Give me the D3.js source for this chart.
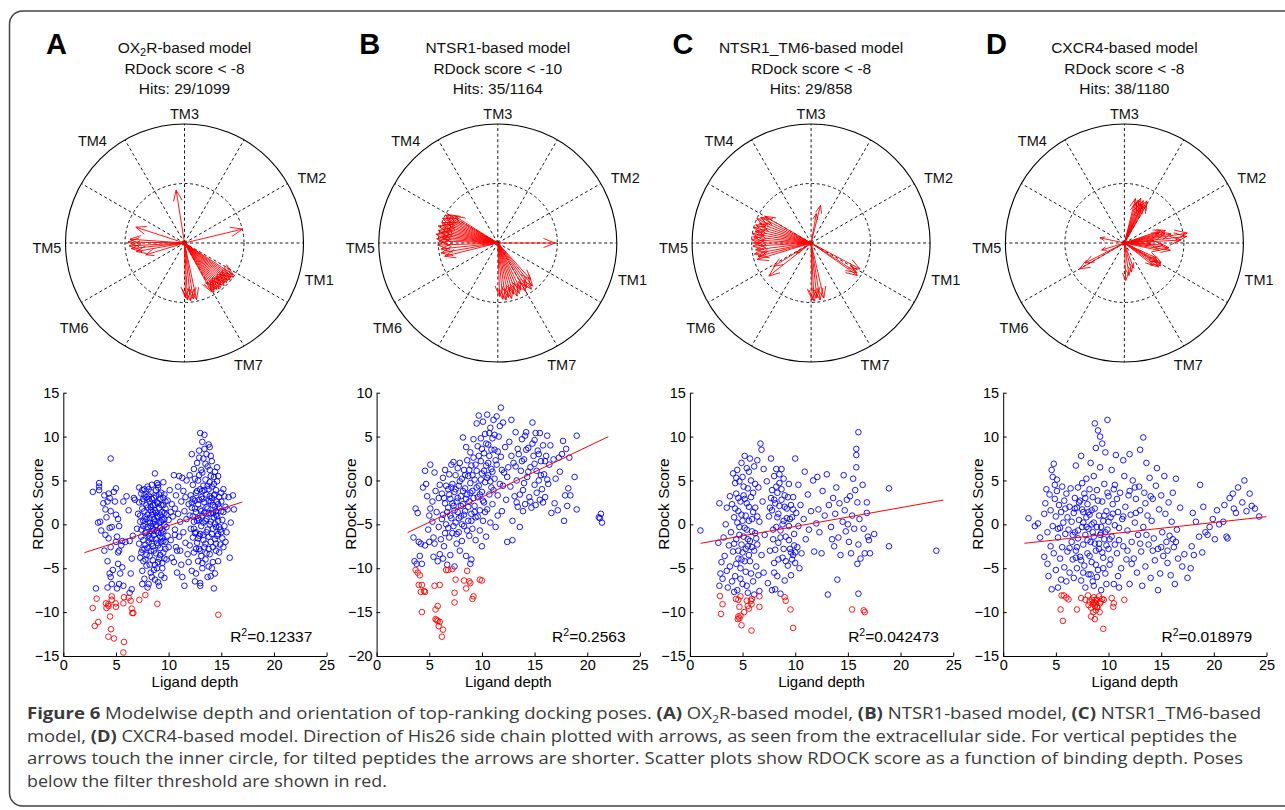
<!DOCTYPE html>
<html>
<head>
<meta charset="utf-8">
<script src="https://cdn.jsdelivr.net/npm/d3@7"></script>
<style>
  body { margin: 0; background: #fff; }
  text { font-family: "Liberation Sans", Arial, sans-serif; }
</style>
</head>
<body>
<div id="chart"></div>
<script>
// ---- data ----
const panelLetters = ["A", "B", "C", "D"];
const modelNames = [["OX", "2", "R-based model"], ["NTSR1-based model"], ["NTSR1_TM6-based model"], ["CXCR4-based model"]];
const thresholds = ["RDock score < -8", "RDock score < -10", "RDock score < -8", "RDock score < -8"];
const hits = ["Hits: 29/1099", "Hits: 35/1164", "Hits: 29/858", "Hits: 38/1180"];
const r2Labels = ["0.12337", "0.2563", "0.042473", "0.018979"];

const tmLabels = ["TM3", "TM2", "TM1", "TM7", "TM6", "TM5", "TM4"];
const tmAngles = [90, 27, -15.2, -62.3, -142.4, -177.9, 132]; // degrees
const tmRadii = [129, 143, 139.6, 137.5, 139.3, 137.7, 137.6];
const spokeAngles = [0, 30, 60, 90, 120, 150, 180, 210, 240, 270, 300, 330];

// arrows: [angle in degrees, length relative to inner circle]
const arrowsA = [[99,0.9],[13.5,1.0],[162,0.86],
  [176,0.92],[179,0.95],[-177,0.93],[-174,0.9],[-170,0.82],[-163,0.68],
  [-33,0.98],[-35,1.0],[-37,0.97],[-39,0.99],[-41,0.96],[-43,0.97],[-45,0.95],[-47,0.98],
  [-49,0.94],[-51,0.96],[-53,0.97],[-55,0.95],[-57,0.93],[-59,0.96],[-61,0.94],
  [-78,0.97],[-81,0.95],[-84,0.98],[-87,0.96],[-89,0.92]];
const arrowsB = [[0,0.96],
  [148,0.85],[150,0.95],[152,1.0],[154,0.97],[156,1.02],[158,0.93],[160,1.0],[162,0.98],[164,1.04],[166,0.96],
  [168,1.02],[170,0.98],[172,1.05],[174,0.95],[176,1.03],[178,0.99],[-178,1.01],[-174,0.96],[-170,0.97],[-166,0.92],
  [-48,0.82],[-51,0.93],[-54,0.96],[-57,0.9],[-60,0.94],[-64,0.88],[-67,0.92],[-70,0.95],[-73,0.9],[-76,0.96],
  [-79,0.93],[-82,0.97],[-85,0.95],[-88,0.9]];
const arrowsC = [[76,0.65],[80,0.5],
  [150,0.9],[153,0.95],[156,1.0],[159,0.93],[162,0.98],[165,1.0],[168,0.96],[171,1.0],[174,0.97],[177,1.0],
  [-180,0.95],[-177,0.98],[-173,0.94],[-169,0.97],[-166,0.92],[-163,0.95],
  [-142,0.9],[-148,0.74],[-145,0.3],
  [-28,0.93],[-33,0.92],[-35,0.95],
  [-77,0.95],[-81,0.97],[-84,0.93],[-87,0.98],[-89,0.96]];
const arrowsD = [[60,0.75],[62,0.8],[64,0.7],[66,0.78],[68,0.72],[70,0.8],[72,0.76],[74,0.7],[76,0.77],[65,0.62],
  [3,0.95],[6,1.05],[9,1.07],[11,0.8],[13,0.7],[15,0.6],[17,0.72],[19,0.65],[5,0.5],[-3,0.65],[-6,0.75],[-9,0.78],[-12,0.6],[-2,0.45],
  [-25,0.6],[-28,0.7],[-30,0.65],[-32,0.72],[-35,0.7],[-38,0.6],
  [-88,0.63],[-82,0.55],[-76,0.5],[-70,0.45],
  [168,0.42],[-163,0.4],[-150,0.87],[-153,0.74]];

// scatter: ligand depth vs RDock score
const yDomains = [[-15, 15], [-20, 10], [-15, 15], [-15, 15]];
const yTicks = [[-15,-10,-5,0,5,10,15], [-20,-15,-10,-5,0,5,10], [-15,-10,-5,0,5,10,15], [-15,-10,-5,0,5,10,15]];
const xTicks = [0, 5, 10, 15, 20, 25];

const blueA = [[2.8,3.7],[3.4,4.7],[3.4,4.3],[3.4,3.9],[3.3,0.2],[3.5,0.3],[3.6,-0.7],[3.8,2.4],[3.9,3.3],[4.0,1.7],
  [4.1,0.8],[4.0,-1.2],[3.9,-3.0],[4.3,3.5],[4.4,3.0],[4.2,2.6],[4.5,1.5],[4.4,-0.4],[4.6,-0.3],[4.3,-1.6],[4.5,-2.6],
  [4.2,-4.2],[4.4,-5.6],[4.2,-7.2],[4.6,-6.8],[4.5,-6.0],[4.7,-5.2],[4.5,7.5],[4.8,3.7],[5.0,4.1],[4.9,2.6],[5.0,1.1],
  [5.2,0.6],[5.3,-0.2],[5.1,-1.4],[5.0,-2.0],[5.2,-3.2],[5.3,-3.0],[5.5,-2.4],[5.2,-4.5],[5.4,-5.6],[5.6,-4.9],[5.1,-7.3],
  [5.3,-6.8],[5.7,-7.0],[5.6,-1.9],[5.9,-2.0],[5.7,2.6],[6.0,3.2],[6.2,1.6],[6.3,-1.9],[6.5,-3.9],[6.4,-5.6],[6.5,-7.4],
  [6.6,-1.3],[6.8,2.8],[6.7,3.0],[6.3,-7.8],[3.1,-7.3],
  [7.0,-0.5],[7.1,1.2],[7.2,2.5],[7.2,-2.2],[7.3,-3.8],[7.3,0.3],[7.4,3.5],[7.4,-1.4],[7.5,1.8],[7.5,-5.3],[7.6,-0.2],
  [7.6,2.9],[7.7,4.0],[7.7,-2.8],[7.7,-6.2],[7.8,0.8],[7.8,-1.0],[7.9,3.1],[7.9,-3.5],[7.9,-4.7],[8.0,1.9],[8.0,-0.3],
  [8.0,4.3],[8.1,-2.0],[8.1,-6.8],[8.2,2.6],[8.2,0.2],[8.2,-1.6],[8.3,3.7],[8.3,-3.0],[8.3,-5.5],[8.4,1.1],[8.4,-0.8],
  [8.4,4.5],[8.5,2.2],[8.5,-2.5],[8.5,-4.1],[8.6,0.6],[8.6,3.0],[8.6,-1.2],[8.7,-6.3],[8.7,5.8],[8.7,1.6],[8.8,-0.1],
  [8.8,-3.3],[8.8,3.9],[8.9,2.5],[8.9,-2.1],[8.9,-5.0],[9.0,0.9],[9.0,-1.0],[9.0,4.2],[9.1,-3.9],[9.1,1.9],[9.1,-7.0],
  [9.2,-0.4],[9.2,2.9],[9.2,-2.7],[9.3,3.6],[9.3,0.3],[9.3,-5.8],[9.4,-1.6],[9.4,1.4],[9.4,-4.4],[9.5,2.2],[9.5,-0.8],
  [9.5,-3.2],[9.6,3.4],[9.6,0.6],[9.6,-6.1],[9.7,-2.0],[9.7,1.8],[9.8,-0.3],[9.8,-4.0],[9.9,2.7],[9.9,-1.3],[10.0,0.5],
  [10.0,-2.6],[7.5,-6.8],[8.0,-7.2],[8.4,-6.0],[9.0,-6.6],[7.2,4.2],[8.1,3.3],[8.7,-4.6],[9.3,-1.0],[7.9,0.6],[8.3,2.0],
  [8.8,1.3],[9.2,-3.5],[7.6,-4.2],[8.5,-0.5],[9.5,4.8],[9.0,4.5],
  [7.3,1.0],[7.4,-0.6],[7.5,2.6],[7.5,-2.9],[7.6,0.4],[7.6,-1.8],[7.7,1.5],[7.7,3.3],[7.8,-2.3],[7.8,0.0],[7.9,2.2],
  [7.9,-0.9],[8.0,1.1],[8.0,-2.7],[8.1,2.9],[8.1,-1.3],[8.2,0.7],[8.2,-3.6],[8.3,-0.2],[8.3,1.6],[8.4,2.9],[8.4,-2.2],
  [8.5,0.1],[8.5,1.4],[8.6,-0.7],[8.6,-3.0],[8.7,2.2],[8.7,0.3],[8.8,-1.7],[8.8,3.2],[8.9,0.9],[8.9,-0.7],[9.0,2.4],
  [9.0,-2.4],[9.1,0.2],[9.1,3.4],[9.2,-1.4],[9.2,1.1],[9.3,-2.0],[9.3,2.2],[9.4,0.5],[9.4,-0.6],[9.5,3.0],[9.5,-1.9],
  [9.6,1.3],[9.6,-0.1],[9.7,2.6],[9.7,-2.8],[9.8,1.1],[7.4,-3.2],[7.8,-4.0],[8.2,-4.6],[8.6,-5.2],[9.0,-4.3],[9.4,-5.0],
  [7.5,3.9],[8.1,4.0],[8.9,4.7],[9.6,-3.9],[8.4,-1.6],
  [10.1,3.9],[10.2,-1.8],[10.3,2.3],[10.3,-3.8],[10.4,0.9],[10.5,-4.3],[10.5,5.6],[10.6,1.8],[10.6,-0.6],[10.7,3.3],
  [10.7,-2.6],[10.8,-5.5],[10.9,1.2],[10.9,4.3],[11.0,-1.4],[11.0,5.5],[11.1,0.3],[11.1,-3.0],[11.2,2.6],[11.3,-6.0],
  [11.3,5.3],[11.4,-0.9],[11.4,3.8],[11.5,1.5],[11.5,-7.0],[11.6,-2.1],[11.7,5.0],[11.7,0.6],[11.8,-3.4],[11.9,2.3],
  [11.9,-4.3],[10.8,-3.0],[11.2,-4.6],[10.2,1.4],[10.6,-1.2],[11.6,3.1],
  [12.0,1.0],[12.0,-2.4],[12.0,5.6],[12.1,3.3],[12.1,-0.5],[12.2,-5.3],[12.2,8.0],[12.2,1.9],[12.3,-1.5],[12.3,4.5],
  [12.4,0.3],[12.4,-3.2],[12.5,2.7],[12.5,-6.5],[12.5,5.2],[12.6,-0.9],[12.6,1.4],[12.7,3.8],[12.7,-2.1],[12.7,7.0],
  [12.8,0.7],[12.8,-4.2],[12.8,2.3],[12.9,5.6],[12.9,-1.3],[12.9,8.4],[13.0,10.4],[13.0,1.7],[13.0,-3.0],[13.0,-7.0],
  [13.1,3.1],[13.1,-0.2],[13.1,6.2],[13.2,9.4],[13.2,-5.0],[13.2,1.0],[13.3,-1.8],[13.3,4.4],[13.3,7.5],[13.4,2.5],
  [13.4,-2.6],[13.4,10.2],[13.5,0.4],[13.5,5.1],[13.5,-4.0],[13.6,3.4],[13.6,-0.9],[13.6,8.0],[13.7,1.8],[13.7,-6.0],
  [13.7,6.6],[13.8,-1.4],[13.8,4.0],[13.8,2.7],[13.9,8.8],[13.9,0.0],[13.9,-3.4],[14.0,5.5],[14.0,1.2],[14.0,-2.0],
  [14.1,3.0],[14.1,-5.0],[14.1,7.2],[14.2,-0.5],[14.2,2.2],[14.2,-4.3],[14.3,4.6],[14.3,0.8],[14.3,-7.3],[14.4,-1.7],
  [14.4,3.4],[14.4,6.0],[14.5,1.5],[14.5,-3.0],[14.5,-0.3],[14.6,4.9],[14.6,2.6],[14.6,6.5],[14.7,-1.1],[14.7,0.4],
  [14.7,-4.2],[14.8,3.1],[14.8,1.9],[14.9,-2.3],[14.9,-0.6],[15.0,2.6],[15.0,3.6],[15.1,0.5],[15.1,-1.6],[15.2,1.4],
  [15.2,-2.6],[15.3,3.2],[15.3,-0.2],[15.4,2.0],[15.5,-0.9],[15.6,1.7],[15.7,3.1],[15.8,-3.8],[15.9,0.2],[16.1,3.3],
  [16.2,1.7],[15.4,-2.0],[15.0,-0.9],[12.5,-1.0],[13.2,3.8],[12.9,-2.8],[13.9,4.8],[14.5,1.1],[12.3,0.9],[13.6,-3.3],
  [14.0,-5.9],[13.0,-6.7],
  [12.3,2.9],[12.4,-0.5],[12.5,1.8],[12.6,3.6],[12.6,-2.8],[12.7,0.4],[12.8,5.0],[12.8,-1.6],[12.9,2.8],[12.9,0.5],
  [13.0,4.0],[13.0,-1.1],[13.1,1.5],[13.1,-3.6],[13.2,2.9],[13.2,5.9],[13.3,0.2],[13.3,-1.2],[13.4,3.9],[13.4,1.3],
  [13.5,-2.2],[13.5,6.9],[13.6,2.0],[13.6,0.6],[13.7,4.4],[13.7,-0.6],[13.8,1.3],[13.8,-2.8],[13.9,3.2],[13.9,6.2],
  [14.0,0.3],[14.0,2.6],[14.1,-1.1],[14.1,4.3],[14.2,1.3],[14.2,-2.6],[14.3,3.3],[14.3,5.4],[14.4,0.1],[14.4,2.0],
  [14.5,-2.2],[14.5,3.9],[14.6,0.9],[14.6,-1.3],[14.7,2.3],[14.7,5.5],[14.8,-0.3],[14.8,-3.2],[12.4,6.3],[12.9,7.6],
  [13.4,8.6],[13.8,9.1],[13.2,-4.4],[13.8,-4.8],[14.4,-5.6],[12.6,-5.6],[14.0,7.8],[12.2,2.5],[15.0,1.5],[15.2,4.0]];
const redA = [[2.79,-9.53],[3.17,-8.47],[2.99,-11.58],[3.32,-11.13],[4.1,-9.53],[4.28,-9.1],[4.6,-8.2],[4.44,-10.5],
  [4.53,-11.95],[4.28,-12.8],[4.81,-13.0],[4.97,-9.0],[5.0,-9.4],[5.7,-9.0],[5.76,-8.3],[6.2,-8.35],[6.4,-8.7],
  [6.5,-9.6],[6.55,-10.1],[6.65,-10.1],[7.22,-8.6],[7.79,-8.05],[8.93,-9.06],[5.76,-13.4],[5.7,-14.6],[14.72,-10.3],
  [4.05,-9.0],[4.3,-9.3],[4.6,-8.6]];
const fitA = [[2.0, -3.23], [17.0, 2.54]];

const blueB = [[3.5,-6.5],[3.6,-9.2],[3.8,-9.5],[3.7,-3.2],[3.9,-3.7],[4.0,-7.0],[4.1,-8.6],[4.2,-7.2],[4.3,-9.5],
  [4.4,-0.8],[4.6,1.1],[4.6,-7.4],[4.7,-0.4],[4.8,-1.8],[4.9,-5.6],[5.0,-4.0],[5.0,-7.0],[5.1,-3.2],[5.1,1.8],[5.3,-2.4],
  [5.3,-4.7],[5.4,-6.5],[5.4,-8.7],[5.5,0.9],[5.5,-7.2],[5.6,-1.2],[5.7,-3.6],[5.8,-9.2],[5.9,-2.0],[5.9,-5.3],[6.0,-0.5],
  [6.0,-8.4],[6.1,-6.7],[6.2,-1.5],[6.3,-3.9],[6.3,0.3],[6.4,-7.5],[6.5,-2.6],[6.5,1.2],[6.6,-5.0],[6.7,-9.6],[6.8,-1.0],
  [6.8,-3.1],[6.9,0.7],[6.9,-6.5],[7.0,-8.5],[7.0,-2.1],[7.1,1.8],[7.1,-4.3],[7.2,-0.4],[7.2,-6.0],[7.3,-2.9],[7.3,2.1],
  [7.4,-9.8],[7.4,-1.3],[7.5,-4.8],[7.5,0.6],[7.6,-7.2],[7.6,-2.4],[7.7,1.4],[7.7,-3.6],[7.8,-0.6],[7.8,-5.9],[7.9,-8.0],
  [7.9,2.0],[8.0,-1.8],[8.0,-4.1],[8.1,0.2],[8.1,-6.9],[8.2,-2.7],[8.2,4.9],[8.3,1.2],[8.3,-5.2],[8.4,-0.9],[8.4,-3.5],
  [8.5,3.8],[8.5,-8.6],[8.6,-1.6],[8.6,2.3],[8.7,-4.6],[8.7,0.5],[8.8,-6.3],[8.8,-2.4],[8.9,3.2],[8.9,-0.3],[9.0,-3.8],
  [9.0,1.7],[9.0,-9.0],[9.1,-5.5],[9.1,-1.2],[9.2,4.7],[9.2,2.6],[9.3,-2.9],[9.3,0.1],[9.4,-6.8],[9.4,-4.2],[9.5,6.5],
  [9.5,1.1],[9.6,-1.9],[9.6,3.9],[9.7,7.4],[9.7,-0.6],[9.8,-3.4],[9.8,-5.7],[9.9,2.2],[9.9,4.8],[10.0,-1.3],[10.0,0.8],
  [10.1,6.7],[10.1,-4.6],[10.2,3.1],[10.2,-2.5],[10.3,5.3],[10.3,-0.2],[10.4,1.7],[10.4,-6.4],[10.5,7.5],[10.5,-3.3],
  [10.6,4.1],[10.6,0.6],[10.7,-1.6],[10.7,2.8],[10.8,6.0],[10.8,-4.8],[10.9,-0.8],[10.9,1.3],[11.0,4.8],[11.0,-2.7],
  [11.1,6.9],[11.2,0.2],[11.2,3.5],[11.3,-5.3],[11.4,7.3],[11.4,1.8],[11.5,-1.7],[11.6,5.0],[11.7,-0.4],[11.8,8.3],
  [11.8,2.7],[11.9,-3.5],[12.0,6.6],[12.1,0.9],[12.2,3.8],[12.3,-2.2],[12.4,-7.0],[12.5,1.5],[12.6,4.4],[12.7,-0.7],
  [12.8,6.9],[12.9,-4.6],[12.9,-6.8],[13.0,2.0],[13.1,-1.8],[13.2,5.5],[13.3,0.0],[13.4,-3.0],[13.5,3.0],[13.6,-5.3],
  [13.7,1.1],[13.8,4.7],[13.9,-1.1],[14.0,2.4],[14.1,-2.7],[14.2,5.5],[14.3,0.4],[14.4,3.7],[14.5,-1.9],[14.6,1.5],
  [14.7,-3.1],[14.8,6.6],[14.9,2.8],[15.0,-0.5],[15.0,4.6],[15.1,-2.8],[15.2,1.1],[15.3,3.4],[15.4,0.0],[15.5,5.4],
  [15.5,-2.2],[15.6,2.2],[15.7,-1.0],[15.8,4.0],[15.9,0.7],[16.0,-1.9],[16.1,2.8],[16.2,5.1],[16.3,-0.4],[16.4,1.8],
  [16.5,4.0],[16.6,-3.7],[16.8,2.4],[17.0,0.2],[17.2,-3.4],[17.3,2.6],[17.6,3.0],[17.7,4.5],[17.8,-4.6],[17.9,-1.7],
  [18.0,3.6],[18.1,-2.9],[18.2,-0.9],[18.3,2.6],[18.8,0.4],[19.0,5.1],[19.0,-3.3],[18.4,-1.7],[21.1,-4.2],[21.3,-3.8],
  [21.4,-4.8],[21.2,-4.3],[17.4,1.0],[16.9,-2.6],[11.5,-4.0],[10.0,-7.5],[8.9,-9.5],[6.3,-8.9],[12.0,-0.6],[13.3,-2.5],
  [6.2,-4.4],[6.4,-2.0],[6.5,-6.0],[6.6,-0.6],[6.7,-3.6],[6.8,-5.4],[6.9,-1.6],[7.0,-4.0],[7.1,-0.8],[7.2,-2.6],
  [7.3,-5.2],[7.4,-3.4],[7.5,-1.0],[7.6,-6.1],[7.7,-2.0],[7.8,-4.3],[7.9,-0.1],[8.0,-2.9],[8.1,-5.0],[8.2,-1.2],
  [8.3,-3.9],[8.4,0.6],[8.5,-2.1],[8.6,-5.7],[8.7,-3.0],[8.8,1.2],[8.9,-1.4],[9.0,-4.6],[9.1,0.6],[9.2,-2.0],
  [9.3,-3.6],[9.4,1.8],[9.5,-0.8],[9.6,-4.1],[9.7,2.8],[9.8,-1.6],[9.9,0.1],[10.0,3.6],[10.1,-2.3],[10.2,1.1],
  [10.3,-3.6],[10.4,4.2],[10.5,0.3],[10.6,2.0],[10.7,5.4],[10.8,-0.1],[10.9,3.5],[11.0,1.0],[11.1,-1.1],[11.2,5.2],
  [11.3,2.3],[11.5,3.3],[11.7,6.2],[11.9,1.2],[13.2,1.6],[13.4,3.6],[13.6,-1.6],[13.8,2.2],[14.0,-0.3],[14.2,3.5],
  [14.4,1.0],[14.6,-2.4],[14.8,4.2],[15.0,1.9],[15.2,-1.4],[15.4,3.0],[15.6,0.6],[15.8,-2.5],[16.0,2.2],[16.2,0.1],
  [14.1,5.1],[15.1,5.4],[13.9,-3.5],[12.4,0.4],[12.8,2.8]];
const redB = [[3.7,-10.2],[3.9,-10.5],[4.1,-10.8],[4.0,-11.9],[4.3,-11.9],[4.2,-12.7],[4.5,-12.6],[4.3,-15.0],
  [5.5,-12.0],[6.0,-11.9],[5.6,-14.7],[5.8,-14.3],[5.6,-15.8],[5.8,-16.0],[6.0,-16.1],[5.9,-16.6],[6.3,-17.0],
  [6.2,-17.8],[6.6,-10.2],[6.8,-10.2],[7.2,-10.1],[7.5,-11.3],[7.4,-12.8],[7.4,-13.9],[8.3,-11.4],[8.5,-12.3],
  [8.6,-10.3],[8.8,-11.5],[8.9,-11.7],[9.2,-13.2],[9.1,-13.5],[9.8,-11.3],[10.0,-11.4],[5.7,-15.9],[4.6,-12.7]];
const fitB = [[2.94, -5.94], [22.0, 4.99]];

const blueC = [[1.0,-0.7],[2.8,2.4],[2.7,-2.1],[2.9,-5.6],[3.0,-4.3],[2.8,-7.0],[3.1,-6.2],[3.2,-1.5],[3.3,-3.6],
  [3.4,0.0],[3.5,-5.3],[3.5,1.9],[3.6,-7.2],[3.7,-2.4],[3.8,3.2],[3.8,-4.8],[3.9,-0.9],[4.0,-6.5],[4.0,2.3],[4.1,5.8],
  [4.1,-3.1],[4.2,0.8],[4.3,-5.9],[4.3,4.7],[4.4,-1.7],[4.4,3.5],[4.5,6.2],[4.5,-7.5],[4.6,-3.9],[4.6,1.5],[4.7,-0.3],
  [4.7,4.9],[4.8,-5.0],[4.8,2.6],[4.9,-2.3],[4.9,7.0],[5.0,0.4],[5.0,-6.8],[5.0,5.4],[5.1,-1.4],[5.1,3.3],[5.2,-4.2],
  [5.2,7.8],[5.3,1.0],[5.3,-2.8],[5.4,6.4],[5.4,-0.6],[5.5,-7.8],[5.5,4.1],[5.6,-3.5],[5.6,2.0],[5.7,-1.9],[5.7,7.5],
  [5.8,5.0],[5.8,-5.6],[5.9,0.6],[5.9,-2.6],[6.0,3.6],[6.0,-6.5],[6.1,6.6],[6.2,-1.0],[6.2,1.9],[6.3,-4.8],[6.4,7.3],
  [6.4,-2.3],[6.5,4.2],[6.6,-7.6],[6.6,0.3],[6.7,9.2],[6.8,8.5],[6.8,-3.5],[6.9,2.6],[7.0,-5.5],[7.0,6.3],[7.1,-1.2],
  [7.3,4.9],[7.4,-6.7],[7.5,0.9],[7.6,-3.0],[7.7,3.0],[7.7,7.5],[7.8,-7.5],[7.8,1.6],[7.9,-1.7],[8.0,5.5],[8.0,-4.4],
  [8.1,2.4],[8.2,-0.3],[8.2,6.3],[8.3,3.6],[8.3,-5.9],[8.4,-2.1],[8.4,1.2],[8.5,4.7],[8.6,-7.9],[8.6,-0.7],[8.7,2.8],
  [8.7,6.3],[8.8,-3.8],[8.9,0.4],[8.9,5.2],[9.0,-6.4],[9.0,3.3],[9.1,-1.4],[9.2,1.8],[9.3,-4.7],[9.4,4.6],[9.4,-0.2],
  [9.5,-2.8],[9.6,2.2],[9.6,-5.8],[9.7,0.8],[9.8,-3.5],[9.8,3.1],[9.9,-1.1],[10.0,7.5],[10.0,-4.4],[10.1,1.3],
  [10.2,-2.6],[10.3,4.5],[10.3,-0.2],[10.4,-5.0],[10.5,2.2],[10.6,-3.3],[10.8,0.6],[10.9,6.0],[11.0,-1.7],[11.2,3.4],
  [11.3,-0.6],[11.5,1.5],[11.7,5.0],[11.8,-3.1],[12.0,0.1],[12.1,5.4],[12.2,1.7],[12.3,-0.9],[12.5,-3.3],[12.6,3.8],
  [12.8,1.0],[13.0,5.7],[13.1,-8.0],[13.2,2.2],[13.4,-0.3],[13.5,-1.7],[13.6,3.0],[13.7,-2.5],[13.8,1.2],[13.9,4.2],
  [14.0,-6.3],[14.1,-1.5],[14.2,2.4],[14.3,-3.5],[14.5,0.3],[14.6,5.6],[14.7,1.6],[14.8,-0.8],[14.9,2.8],[15.0,0.0],
  [15.1,-2.0],[15.2,3.2],[15.3,-3.3],[15.4,1.0],[15.5,5.2],[15.6,-0.5],[15.7,3.9],[15.8,6.5],[15.8,7.9],[15.8,8.6],
  [15.9,-4.5],[15.9,2.5],[16.0,10.5],[16.0,-2.3],[16.0,-7.9],[16.1,0.6],[16.2,-3.9],[16.4,4.5],[16.5,-0.5],[16.6,-3.3],
  [16.8,1.3],[16.9,-1.4],[16.8,2.5],[17.0,-1.8],[17.5,-1.1],[17.1,-3.3],[18.9,4.1],[18.9,-2.5],[23.4,-3.0],[5.4,-7.0],
  [4.2,-7.7],[6.1,-8.0],[8.1,-7.4],
  [4.2,-2.2],[4.3,1.8],[4.4,-4.5],[4.5,0.2],[4.6,3.0],[4.7,-1.2],[4.8,-6.2],[4.9,1.1],[5.0,-3.2],[5.1,4.3],[5.2,-0.4],
  [5.3,-5.4],[5.4,2.4],[5.5,-1.7],[5.6,0.4],[5.7,-4.2],[5.8,3.1],[5.9,-0.8],[6.0,1.4],[6.1,-3.0],[6.2,4.6],[6.3,-1.6],
  [6.4,0.9],[6.5,-5.8],[4.4,5.3],[5.6,6.0],[4.9,-4.0],[5.5,-2.5],[5.2,2.9],[4.6,-3.0],
  [7.6,1.9],[7.8,3.9],[7.9,-0.6],[8.0,2.8],[8.1,-2.9],[8.2,4.3],[8.3,0.8],[8.4,-4.0],[8.5,2.1],[8.6,-1.5],[8.7,4.0],
  [8.8,0.0],[8.9,-2.8],[9.0,2.0],[9.1,-4.2],[9.2,0.7],[9.3,3.1],[9.4,-1.8],[9.5,0.6],[9.6,-3.2],[9.7,-4.0],[9.8,1.7],
  [9.9,-2.4],[10.0,-3.2],[8.5,5.7],[8.0,-5.5]];
const redC = [[2.85,-8.17],[3.1,-9.1],[2.95,-10.2],[4.37,-8.5],[4.6,-8.6],[4.8,-8.2],[4.7,-9.4],[4.6,-10.5],
  [4.7,-10.7],[4.8,-10.4],[4.55,-10.8],[4.9,-11.5],[5.15,-10.0],[5.4,-8.7],[5.6,-9.6],[5.5,-9.3],[5.8,-8.7],
  [5.9,-8.5],[5.85,-9.1],[5.85,-12.1],[6.6,-8.2],[6.6,-9.4],[9.0,-8.3],[9.1,-8.7],[9.55,-9.7],[9.8,-11.8],
  [15.4,-9.7],[16.5,-9.8],[16.6,-10.0]];
const fitC = [[1.02, -2.16], [24.06, 2.77]];

const blueD = [[2.4,0.7],[3.0,-0.2],[3.3,0.1],[3.5,-1.5],[3.9,-3.7],[3.9,1.2],[4.0,2.4],[4.1,4.0],[4.2,-4.5],
  [4.2,-0.9],[4.3,-5.9],[4.4,3.4],[4.5,-2.5],[4.5,1.6],[4.6,-7.4],[4.6,6.2],[4.7,5.4],[4.7,-0.2],[4.8,6.9],[4.8,-3.3],
  [4.9,2.9],[5.0,-5.2],[5.0,0.9],[5.1,3.8],[5.1,5.1],[5.2,-1.5],[5.2,-7.2],[5.3,2.2],[5.4,-3.9],[5.4,-0.4],[5.5,-6.3],
  [5.5,1.4],[5.6,4.3],[5.6,-2.6],[5.7,0.2],[5.8,-4.9],[5.8,2.7],[5.9,-1.1],[6.0,-6.5],[6.0,3.5],[6.1,0.8],[6.1,-3.1],
  [6.2,-0.6],[6.3,2.0],[6.3,-5.5],[6.4,4.1],[6.5,-2.0],[6.5,0.3],[6.6,-4.0],[6.7,1.3],[6.7,-6.1],[6.8,3.0],[6.8,-0.9],
  [6.9,6.7],[6.9,-3.0],[7.0,1.9],[7.0,-5.0],[7.1,4.2],[7.1,-1.6],[7.2,0.5],[7.3,-3.7],[7.3,2.7],[7.4,7.8],[7.4,-6.4],
  [7.5,-0.3],[7.5,4.7],[7.6,-2.3],[7.6,1.4],[7.7,-4.7],[7.7,3.5],[7.8,-1.2],[7.8,-7.2],[7.9,0.8],[7.9,5.2],[8.0,-3.3],
  [8.0,2.3],[8.1,-0.5],[8.1,-5.7],[8.2,4.0],[8.2,1.1],[8.3,-2.0],[8.3,7.0],[8.4,-4.3],[8.4,0.0],[8.5,3.1],[8.5,-6.5],
  [8.6,-1.4],[8.6,5.5],[8.7,1.8],[8.7,11.5],[8.8,-3.0],[8.8,8.7],[8.9,-0.3],[8.9,3.9],[9.0,-5.2],[9.0,10.7],[9.1,1.0],
  [9.1,-2.2],[9.2,10.0],[9.2,6.5],[9.3,-1.0],[9.3,-7.5],[9.4,2.6],[9.4,9.2],[9.5,-3.8],[9.5,0.4],[9.6,4.6],[9.6,-1.7],
  [9.7,8.2],[9.7,-5.6],[9.8,1.5],[9.9,11.9],[9.9,-0.6],[10.0,-2.8],[10.0,3.2],[10.1,-4.6],[10.2,0.8],[10.3,6.2],
  [10.3,-1.4],[10.4,2.3],[10.5,-6.8],[10.6,-0.1],[10.6,4.5],[10.7,7.9],[10.8,-3.3],[10.9,1.4],[11.0,-1.8],[11.1,3.6],
  [11.2,-5.0],[11.3,0.6],[11.4,7.3],[11.4,-2.5],[11.5,5.5],[11.6,2.0],[11.7,-4.0],[11.8,-0.7],[11.9,3.3],[12.0,-6.8],
  [12.0,8.0],[12.1,1.1],[12.2,-2.0],[12.3,5.0],[12.4,-3.9],[12.5,0.2],[12.6,2.9],[12.7,-5.5],[12.8,-1.2],[12.9,4.3],
  [13.0,8.5],[13.0,1.6],[13.1,-3.1],[13.2,-7.0],[13.3,9.9],[13.3,-0.3],[13.4,3.6],[13.5,-4.8],[13.6,7.0],[13.7,1.0],
  [13.8,-2.3],[13.9,5.3],[14.0,-6.1],[14.1,0.4],[14.2,2.9],[14.3,-1.6],[14.4,-4.1],[14.5,4.4],[14.6,6.4],[14.7,-2.8],
  [14.7,-7.5],[14.8,1.7],[14.9,-5.6],[15.0,3.3],[15.1,-0.9],[15.2,-3.6],[15.3,5.5],[15.4,1.2],[15.5,-2.0],[15.6,-4.4],
  [15.7,2.5],[15.8,-1.3],[15.9,-5.8],[16.0,0.3],[16.1,3.6],[16.2,-2.6],[16.3,-6.8],[16.4,5.2],[16.5,-0.6],[16.6,-3.9],
  [16.8,1.9],[17.0,-4.8],[17.2,-3.4],[17.5,-6.1],[17.8,-5.0],[17.9,-2.5],[18.0,1.3],[18.1,-3.5],[18.3,0.3],[18.6,-1.4],
  [18.7,4.5],[18.9,-3.2],[19.0,2.0],[19.2,-0.9],[19.4,-1.2],[19.6,-0.3],[19.9,0.6],[20.1,-1.7],[20.3,1.6],[20.5,0.0],
  [20.9,0.3],[21.0,2.2],[21.2,-1.4],[21.3,-1.6],[21.5,3.0],[21.8,3.5],[21.9,1.8],[22.1,1.3],[22.3,4.2],[22.7,2.5],
  [22.9,5.0],[23.1,1.5],[23.4,3.5],[23.6,2.1],[23.9,1.8],[24.3,0.9],[8.6,-7.0],[9.8,-6.8],[11.0,-7.2],
  [6.6,-1.2],[6.8,1.8],[7.0,-2.6],[7.2,2.5],[7.4,-4.1],[7.6,0.2],[7.8,3.0],[8.0,-1.8],[8.2,-3.6],[8.4,1.6],[8.6,0.2],
  [8.8,-4.6],[9.0,2.7],[9.2,-1.2],[9.4,-3.2],[9.6,1.0],[9.8,-2.4],[10.0,0.3],[10.2,-4.0],[10.4,1.2],[10.6,-2.3],
  [10.8,2.9],[11.0,-0.4],[8.3,-5.7],[8.9,-6.0],[9.5,-5.0],[9.1,-2.8],[8.7,-2.2],[9.3,-0.3],[8.5,-0.9],[9.7,-0.9],
  [10.1,-1.7],[7.9,-0.3],[8.1,1.4],[9.9,3.6],[10.5,4.0],[7.5,1.7],[7.1,-0.7],[6.9,-3.8],[11.4,0.9],[11.8,-3.0],
  [12.2,-4.5],[12.6,1.3],[13.0,-2.2],[13.6,-1.2],[14.2,-3.0],[15.0,-2.6],[15.6,-3.0],[16.1,-1.7],[16.4,-2.0],[12.0,3.8],
  [12.5,4.2],[13.5,2.4],[14.0,3.2],[5.9,1.8],[5.2,-0.5],[6.3,-2.7],[4.9,4.5],[7.6,-5.5],[10.9,-5.9]];
const redD = [[5.54,-8.1],[5.76,-8.1],[6.0,-8.35],[6.2,-8.55],[5.45,-9.7],[5.67,-11.0],[7.0,-9.7],[7.4,-8.4],
  [7.8,-8.6],[8.05,-8.1],[8.2,-8.8],[8.45,-8.6],[8.6,-8.3],[8.35,-10.5],[8.55,-10.0],[8.7,-10.8],[8.8,-9.0],
  [8.9,-8.6],[8.95,-9.45],[8.8,-9.8],[9.15,-10.0],[9.25,-8.8],[9.4,-8.5],[9.5,-11.9],[9.1,-8.2],[8.9,-9.4],
  [8.7,-9.3],[8.5,-9.0],[8.35,-9.5],[10.3,-8.4],[10.5,-9.0],[10.45,-9.4],[11.5,-8.6],[8.1,-9.2],[9.2,-9.0],
  [8.75,-8.6],[9.55,-8.6],[8.65,-8.9]];
const fitD = [[2.02, -2.16], [25.0, 0.87]];

const arrowSets = [arrowsA, arrowsB, arrowsC, arrowsD];
const blueSets = [blueA, blueB, blueC, blueD];
const redSets = [redA, redB, redC, redD];
const fitSets = [fitA, fitB, fitC, fitD];

// ---- layout ----
const width = 1285, height = 810;
const step = 313.3;
const polar = { cx: 184.5, cy: 243, R: 119 };
const plot = { left: 63.3, w: 263.3, top: 392.7, bottom: 656 };

const svg = d3.select("#chart").append("svg")
  .attr("width", width).attr("height", height);

// outer frame
svg.append("rect")
  .attr("x", 9.5).attr("y", 11).attr("width", 1300).attr("height", 795)
  .attr("rx", 13).attr("fill", "none").attr("stroke", "#444").attr("stroke-width", 1.5);

panelLetters.forEach((letter, i) => {
  const cx = polar.cx + i * step;
  const g = svg.append("g");

  // panel letter + title
  g.append("text").attr("x", cx - 138.5).attr("y", 54.3)
    .attr("font-size", 29).attr("font-weight", "bold").text(letter);

  const t1 = g.append("text").attr("x", cx).attr("y", 53).attr("font-size", 15.5)
    .attr("text-anchor", "middle").attr("fill", "#111");
  const parts = modelNames[i];
  if (parts.length === 3) {
    t1.append("tspan").text(parts[0]);
    t1.append("tspan").attr("font-size", 11).attr("dy", 3).text(parts[1]);
    t1.append("tspan").attr("dy", -3).text(parts[2]);
  } else {
    t1.text(parts[0]);
  }
  g.append("text").attr("x", cx).attr("y", 73.5).attr("font-size", 15.5)
    .attr("text-anchor", "middle").attr("fill", "#111").text(thresholds[i]);
  g.append("text").attr("x", cx).attr("y", 94).attr("font-size", 15.5)
    .attr("text-anchor", "middle").attr("fill", "#111").text(hits[i]);

  // polar plot
  const pg = g.append("g").attr("transform", `translate(${cx},${polar.cy})`);
  const r = d3.scaleLinear().domain([0, 2]).range([0, polar.R]);
  const rad = (deg) => (deg * Math.PI) / 180;

  pg.selectAll("line.spoke").data(spokeAngles).enter().append("line")
    .attr("x1", 0).attr("y1", 0)
    .attr("x2", (d) => r(2) * Math.cos(rad(d)))
    .attr("y2", (d) => -r(2) * Math.sin(rad(d)))
    .attr("stroke", "#000").attr("stroke-width", 0.9).attr("stroke-dasharray", "3,2.6");
  pg.append("circle").attr("r", r(1)).attr("fill", "none")
    .attr("stroke", "#000").attr("stroke-width", 0.9).attr("stroke-dasharray", "3,2.6");
  pg.append("circle").attr("r", r(2)).attr("fill", "none")
    .attr("stroke", "#000").attr("stroke-width", 1.1);

  pg.selectAll("text.tm").data(tmLabels).enter().append("text")
    .attr("x", (d, k) => tmRadii[k] * Math.cos(rad(tmAngles[k])))
    .attr("y", (d, k) => -tmRadii[k] * Math.sin(rad(tmAngles[k])))
    .attr("dy", "0.36em").attr("text-anchor", "middle")
    .attr("font-size", 14.5).attr("fill", "#111").text((d) => d);

  // arrows (compass style: head 0.2 of length, half-width 0.08)
  const arrowPath = (d) => {
    const L = r(d[1]);
    const a = rad(d[0]);
    const pt = (u, v) => [ (u * Math.cos(a) - v * Math.sin(a)) * L, -(u * Math.sin(a) + v * Math.cos(a)) * L ];
    const p0 = pt(0, 0), p1 = pt(1, 0), p2 = pt(0.8, 0.08), p3 = pt(0.8, -0.08);
    return `M${p0}L${p1}L${p2}M${p1}L${p3}`;
  };
  pg.selectAll("path.arrow").data(arrowSets[i]).enter().append("path")
    .attr("d", arrowPath).attr("fill", "none")
    .attr("stroke", "#ff0000").attr("stroke-width", 0.9);

  // scatter plot
  const left = plot.left + i * step;
  const x = d3.scaleLinear().domain([0, 25]).range([left, left + plot.w]);
  const y = d3.scaleLinear().domain(yDomains[i]).range([plot.bottom, plot.top]);

  const xAxis = d3.axisBottom(x).tickValues(xTicks).tickSizeInner(-3.5).tickSizeOuter(0).tickPadding(3.5);
  const yAxis = d3.axisLeft(y).tickValues(yTicks[i]).tickSizeInner(-3.5).tickSizeOuter(0).tickPadding(4);

  const xg = g.append("g").attr("transform", `translate(0,${plot.bottom})`).call(xAxis);
  const yg = g.append("g").attr("transform", `translate(${left},0)`).call(yAxis);
  [xg, yg].forEach((ax) => {
    ax.selectAll("text").attr("font-size", 14.5).attr("fill", "#000")
      .attr("font-family", '"Liberation Sans", Arial, sans-serif');
    ax.select(".domain").attr("stroke", "#000").attr("stroke-width", 1);
    ax.selectAll(".tick line").attr("stroke", "#000");
  });

  g.append("text").attr("x", x(12.5)).attr("y", 687).attr("text-anchor", "middle")
    .attr("font-size", 15).text("Ligand depth");
  g.append("text").attr("transform", `translate(${left - 20.5},504) rotate(-90)`)
    .attr("text-anchor", "middle").attr("font-size", 15.5).text("RDock Score");

  g.selectAll("circle.blue").data(blueSets[i]).enter().append("circle")
    .attr("cx", (d) => x(d[0])).attr("cy", (d) => y(d[1])).attr("r", 2.8)
    .attr("fill", "none").attr("stroke", "#0000ff").attr("stroke-width", 0.9);
  g.selectAll("circle.red").data(redSets[i]).enter().append("circle")
    .attr("cx", (d) => x(d[0])).attr("cy", (d) => y(d[1])).attr("r", 2.8)
    .attr("fill", "none").attr("stroke", "#ff0000").attr("stroke-width", 0.9);

  g.append("path").datum(fitSets[i])
    .attr("d", d3.line().x((d) => x(d[0])).y((d) => y(d[1])))
    .attr("stroke", "#ff0000").attr("stroke-width", 1).attr("fill", "none");

  const rt = g.append("text").attr("x", left + 249).attr("y", 641.5)
    .attr("text-anchor", "end").attr("font-size", 15.5);
  rt.append("tspan").text("R");
  rt.append("tspan").attr("font-size", 10.5).attr("dy", -6).text("2");
  rt.append("tspan").attr("dy", 6).text("=" + r2Labels[i]);
});

// ---- caption ----
const captionLines = [
  [["b", "Figure 6"], ["", " Modelwise depth and orientation of top-ranking docking poses. "], ["b", "(A)"], ["", " OX"],
   ["sub", "2"], ["", "R-based model, "], ["b", "(B)"], ["", " NTSR1-based model, "], ["b", "(C)"], ["", " NTSR1_TM6-based"]],
  [["", "model, "], ["b", "(D)"], ["", " CXCR4-based model. Direction of His26 side chain plotted with arrows, as seen from the extracellular side. For vertical peptides the"]],
  [["", "arrows touch the inner circle, for tilted peptides the arrows are shorter. Scatter plots show RDOCK score as a function of binding depth. Poses"]],
  [["", "below the filter threshold are shown in red."]]
];
const captionWidths = [1234, 1210, 1216, 360];

captionLines.forEach((line, k) => {
  const t = svg.append("text").attr("x", 27).attr("y", 719.3 + k * 22.5)
    .attr("font-size", 16.5).attr("fill", "#3a3a3a")
    .style("font-family", '"Open Sans", "Noto Sans", sans-serif')
    .attr("textLength", captionWidths[k]).attr("lengthAdjust", "spacingAndGlyphs");
  let shifted = false;
  line.forEach(([kind, str]) => {
    const s = t.append("tspan").text(str);
    if (kind === "b") s.attr("font-weight", "bold");
    if (kind === "sub") { s.attr("font-size", 11).attr("dy", 4); shifted = true; }
    else if (shifted) { s.attr("dy", -4); shifted = false; }
  });
});
</script>
</body>
</html>
